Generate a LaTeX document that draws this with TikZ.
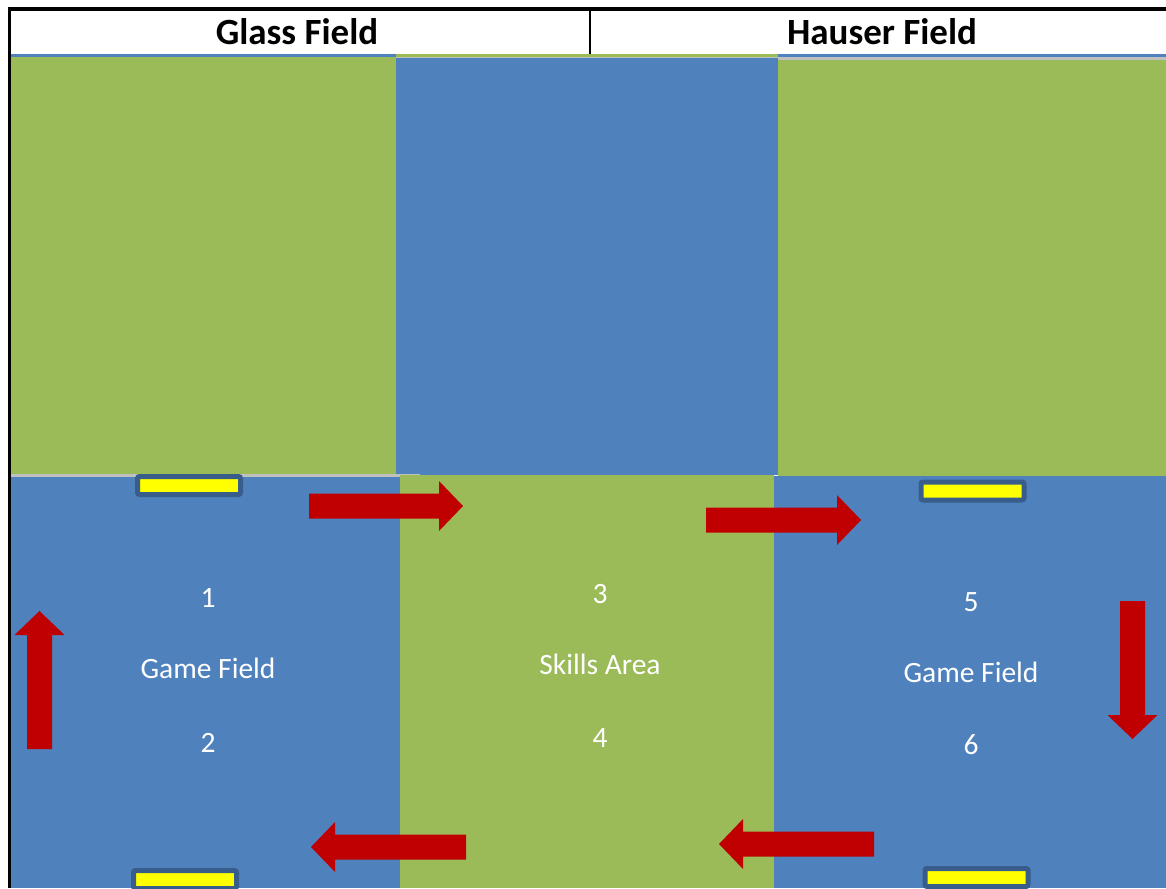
\documentclass[tikz,border=0pt]{standalone}
\usepackage{fontspec}
\setmainfont{Carlito}
\usepackage{xcolor}
\definecolor{FieldGreen}{HTML}{9BBB59}
\definecolor{FieldBlue}{HTML}{4F81BD}
\definecolor{ArrowRed}{HTML}{C00000}
\definecolor{GoalYellow}{HTML}{FFFF00}
\definecolor{GoalEdge}{HTML}{385D8A}
\definecolor{SeamGray}{HTML}{C0C0C0}
\tikzset{
  headertext/.style={anchor=base, font=\bfseries\fontsize{37}{44}\selectfont},
  fieldlabel/.style={anchor=base, text=white, font=\fontsize{29.5}{35}\selectfont},
  goalbar/.style={
    draw=GoalEdge,
    fill=GoalYellow,
    line width=5pt,
    rounded corners=2pt,
    minimum width=103pt,
    minimum height=18pt,
    inner sep=0pt
  },
  pics/flowarrow/.style={code={
    \fill[ArrowRed] (0,-12.5) -- (#1-24,-12.5) -- (#1-24,-25) -- (#1,0)
      -- (#1-24,25) -- (#1-24,12.5) -- (0,12.5) -- cycle;
  }}
}
\begin{document}
\begin{tikzpicture}[x=1pt, y=-1pt]
  \useasboundingbox (0,0) rectangle (1166,888);
  \clip (0,0) rectangle (1166,888);
  % header row
  \fill[white] (0,0) rectangle (1166,888);
  \fill[black] (7.5,7) rectangle (1166,11);
  \fill[black] (7.5,7) rectangle (11,888);
  \fill[black] (588.5,11) rectangle (590.5,54);
  \node[headertext] (glass) at (297,45) {Glass Field};
  \node[headertext] (hauser) at (882,45) {Hauser Field};
  % upper row of fields
  \fill[FieldBlue] (11,54) rectangle (396,57);
  \fill[FieldGreen] (11,57) rectangle (396,474);
  \fill[FieldGreen] (396,54) rectangle (778,57);
  \fill[SeamGray] (396,57) rectangle (778,58);
  \fill[FieldBlue] (396,58) rectangle (778,475);
  \fill[FieldBlue] (778,54) rectangle (1166,57);
  \fill[SeamGray] (778,57) rectangle (1166,60);
  \fill[FieldGreen] (778,60) rectangle (1166,476);
  % lower row of fields
  \fill[SeamGray] (11,474) rectangle (420,477);
  \fill[FieldBlue] (11,477) rectangle (400,888);
  \fill[FieldGreen] (400,475) rectangle (774,888);
  \fill[FieldBlue] (774,476) rectangle (1166,888);
  % goals
  \node[goalbar] (goalA) at (189,485.5) {};
  \node[goalbar] (goalB) at (185,879.5) {};
  \node[goalbar] (goalC) at (972.5,491) {};
  \node[goalbar] (goalD) at (976.5,877.5) {};
  % labels
  \node[fieldlabel] (one) at (208,607) {1};
  \node[fieldlabel] (gameL) at (208,678) {Game Field};
  \node[fieldlabel] (two) at (208,752) {2};
  \node[fieldlabel] (three) at (600,603) {3};
  \node[fieldlabel] (skills) at (600,674) {Skills Area};
  \node[fieldlabel] (four) at (600,747) {4};
  \node[fieldlabel] (five) at (971,611) {5};
  \node[fieldlabel] (gameR) at (971,682) {Game Field};
  \node[fieldlabel] (six) at (971,754) {6};
  % rotation arrows
  \pic at (309,506) {flowarrow=154};
  \pic at (706,520) {flowarrow=155};
  \pic[rotate=180] at (874,844) {flowarrow=155};
  \pic[rotate=180] at (466,847) {flowarrow=155};
  \pic[rotate=90] at (39.5,749) {flowarrow=138};
  \pic[rotate=-90] at (1132.5,601) {flowarrow=138};
\end{tikzpicture}
\end{document}
